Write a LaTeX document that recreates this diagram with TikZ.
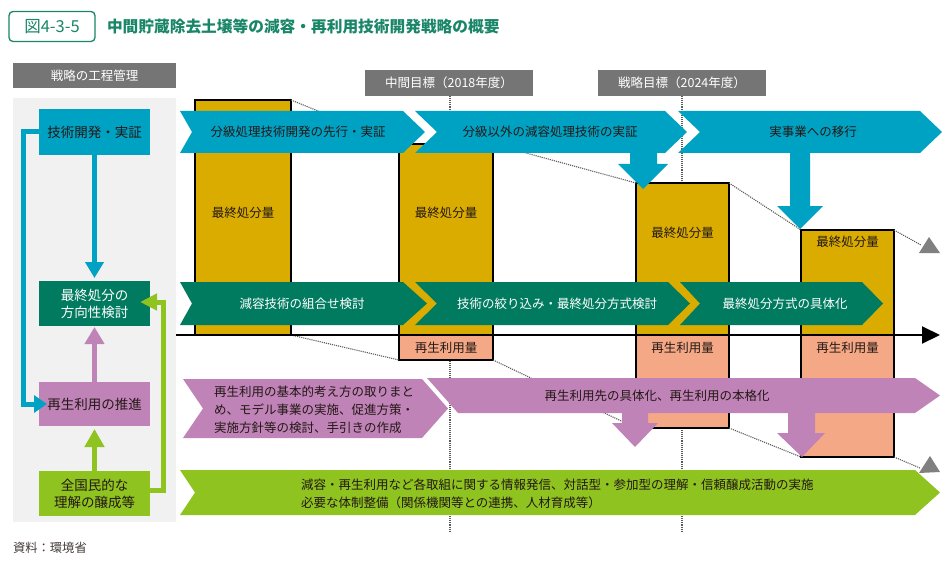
\documentclass[tikz,border=0pt]{standalone}
\usepackage{fontspec}
\setmainfont{Noto Sans CJK JP}
\usetikzlibrary{arrows.meta}
\definecolor{tgreen}{RGB}{26,134,104}
\definecolor{ccyan}{RGB}{0,162,196}
\definecolor{cteal}{RGB}{0,123,96}
\definecolor{cpurple}{RGB}{192,131,184}
\definecolor{clime}{RGB}{143,195,31}
\definecolor{cgold}{RGB}{218,172,0}
\definecolor{csalmon}{RGB}{244,168,134}
\definecolor{chead}{RGB}{117,117,117}
\definecolor{cpanel}{RGB}{241,241,241}
\definecolor{tdark}{RGB}{35,24,21}
\definecolor{cdot}{RGB}{90,90,90}
\definecolor{ctri}{RGB}{128,128,128}
\begin{document}
\begin{tikzpicture}[x=1pt,y=-1pt,
  every node/.style={inner sep=0pt, outer sep=0pt},
  leftbox/.style={minimum width=111pt, minimum height=45pt, align=center, font=\fontsize{13.5}{17}\selectfont},
  header/.style={fill=chead, text=white, font=\fontsize{12.5}{14}\selectfont},
  bar/.style={draw=black, line width=1.5pt, fill=cgold, anchor=north west},
  sbar/.style={draw=black, line width=1.5pt, fill=csalmon, anchor=north west},
  barlabel/.style={text=tdark, font=\fontsize{12.5}{14}\selectfont},
  lbl/.style={font=\fontsize{12.5}{18}\selectfont, text=tdark},
  trend/.style={draw=cdot, densely dotted, line width=1.1pt},
  msline/.style={draw=cdot, densely dotted, line width=1.1pt},
  conn/.style={line width=5pt},
]
\useasboundingbox (0,0) rectangle (952,564);
\fill[white] (0,0) rectangle (952,564);

% title
\node[draw=tgreen, line width=1.3pt, rounded corners=4pt, minimum width=86pt, minimum height=30pt,
      text=tgreen, font=\fontsize{16.5}{18}\selectfont] (fig) at (52,26.5) {図4-3-5};
\node[anchor=west, text=tgreen, font=\bfseries\fontsize{15.7}{18}\selectfont] (title) at (107,27) {中間貯蔵除去土壌等の減容・再利用技術開発戦略の概要};

% left panel
\node[header, minimum width=163pt, minimum height=25pt] (proc) at (94.5,75.5) {戦略の工程管理};
\fill[cpanel] (13,98) rectangle (176,522);

% milestone headers and vertical dotted lines
\node[header, minimum width=168pt, minimum height=26pt] (m1) at (449,83) {中間目標（2018年度）};
\node[header, minimum width=168pt, minimum height=26pt] (m2) at (682,83) {戦略目標（2024年度）};
\coordinate (m1end) at (450,532);
\coordinate (m2end) at (682,532);
\draw[msline] (m1.south -| m1end) -- (m1end);
\draw[msline] (m2.south) -- (m2end);

% bars
\node[bar, minimum width=96pt, minimum height=235pt] (b1) at (195,100) {};
\node[bar, minimum width=94pt, minimum height=191pt] (b2) at (399,144) {};
\node[bar, minimum width=93pt, minimum height=152pt] (b3) at (636,183) {};
\node[bar, minimum width=93pt, minimum height=105pt] (b4) at (801,230) {};
\node[sbar, minimum width=94pt, minimum height=25pt] (s2) at (399,335) {};
\node[sbar, minimum width=93pt, minimum height=93pt] (s3) at (636,335) {};
\node[sbar, minimum width=93pt, minimum height=122pt] (s4) at (801,335) {};

% trend lines
\coordinate (g1) at (921,245);
\coordinate (g2) at (920,468);
\draw[trend] (b1.north east) -- (b2.north west);
\draw[trend] (b2.north east) -- (b3.north west);
\draw[trend] (b3.north east) -- (b4.north west);
\draw[trend] (b4.north east) -- (g1);
\draw[trend] (b1.south east) -- (s2.south west);
\draw[trend] (s2.south east) -- (s3.south west);
\draw[trend] (s3.south east) -- (s4.south west);
\draw[trend] (s4.south east) -- (g2);
\fill[ctri] (919,253) -- (940,253) -- (929,237) -- cycle;
\fill[ctri] (919,473) -- (940,472) -- (930,456) -- cycle;

% axis
\coordinate (axL) at (176,335);
\coordinate (axR) at (940,335);
\draw[line width=2pt, -{Triangle[length=18pt,width=17pt]}] (axL) -- (axR);

% row 1 cyan
\fill[ccyan] (180,111) -- (403,111) -- (425,132) -- (403,153) -- (180,153) -- (192,132) -- cycle;
\fill[ccyan] (415,111) -- (665,111) -- (687,132) -- (665,153) -- (657,153) -- (657,164) -- (668,164) -- (643,189)
   -- (618,164) -- (630,164) -- (630,153) -- (415,153) -- (437,132) -- cycle;
\fill[ccyan] (678,111) -- (920,111) -- (942,132) -- (920,153) -- (810,153) -- (810,206) -- (823,206) -- (800,229)
   -- (777,206) -- (790,206) -- (790,153) -- (678,153) -- (700,132) -- cycle;
\node[lbl] (c1t) at (298,132) {分級処理技術開発の先行・実証};
\node[lbl] (c2t) at (550,132) {分級以外の減容処理技術の実証};
\node[lbl] (c3t) at (813,132) {実事業への移行};

% row 2 teal
\fill[cteal] (180,282) -- (403,282) -- (427,303.5) -- (403,325) -- (180,325) -- (192,303.5) -- cycle;
\fill[cteal] (415,282) -- (668,282) -- (690,303.5) -- (668,325) -- (415,325) -- (437,303.5) -- cycle;
\fill[cteal] (680,282) -- (862,282) -- (883,303.5) -- (862,325) -- (680,325) -- (700,303.5) -- cycle;
\node[lbl, text=white] (t1t) at (302,303.5) {減容技術の組合せ検討};
\node[lbl, text=white] (t2t) at (557,303.5) {技術の絞り込み・最終処分方式検討};
\node[lbl, text=white] (t3t) at (785,303.5) {最終処分方式の具体化};

% row 3 purple
\fill[cpurple] (427,378) -- (915,378) -- (940,395.5) -- (915,413) -- (815,413) -- (815,433) -- (825,433) -- (802,457)
   -- (777,433) -- (788,433) -- (788,413) -- (648,413) -- (648,423) -- (658,423) -- (635,447) -- (612,423)
   -- (622,423) -- (622,413) -- (458,413) -- cycle;
\fill[cpurple] (183,379) -- (422,379) -- (448,408.5) -- (422,438) -- (183,438) -- (203,408.5) -- cycle;
\node[lbl, anchor=west, align=left] (p1t) at (214,410) {再生利用の基本的考え方の取りまと\\め、モデル事業の実施、促進方策・\\実施方針等の検討、手引きの作成};
\node[lbl] (p2t) at (657,395.5) {再生利用先の具体化、再生利用の本格化};

% row 4 lime
\fill[clime] (180,470) -- (915,470) -- (940,492.5) -- (915,515) -- (180,515) -- (195,492.5) -- cycle;
\node[lbl, anchor=west, align=left] (l1t) at (301,494) {減容・再生利用など各取組に関する情報発信、対話型・参加型の理解・信頼醸成活動の実施\\必要な体制整備（関係機関等との連携、人材育成等）};

% bar labels
\node[barlabel] (b1t) at (243,213) {最終処分量};
\node[barlabel] (b2t) at (446,213) {最終処分量};
\node[barlabel] (b3t) at (682.5,233) {最終処分量};
\node[barlabel] (b4t) at (847.5,242) {最終処分量};
\node[barlabel] (s2t) at (446,348) {再生利用量};
\node[barlabel] (s3t) at (682.5,348) {再生利用量};
\node[barlabel] (s4t) at (847.5,348) {再生利用量};

% left nodes
\node[leftbox, fill=ccyan, minimum height=46pt, text=tdark] (tech) at (94.5,132) {技術開発・実証};
\node[leftbox, fill=cteal, text=white] (final) at (94.5,303.5) {最終処分の\\方向性検討};
\node[leftbox, fill=cpurple, minimum height=44pt, text=tdark] (reuse) at (94.5,404) {再生利用の推進};
\node[leftbox, fill=clime, text=tdark] (all) at (94.5,493.5) {全国民的な\\理解の醸成等};

% left connectors
\draw[conn, draw=ccyan, -{Triangle[length=13pt,width=17pt]}] (tech.west) -- ++(-16,0) |- ([xshift=8pt]reuse.west);
\draw[conn, draw=ccyan, -{Triangle[length=16pt,width=18pt]}] (tech.south) -- ([yshift=3pt]final.north);
\draw[conn, draw=cpurple, -{Triangle[length=17pt,width=19pt]}] (reuse.north) -- ([yshift=-1pt]final.south);
\draw[conn, draw=clime, -{Triangle[length=18pt,width=19pt]}] (all.north) -- ([yshift=-3pt]reuse.south);
\draw[conn, draw=clime, -{Triangle[length=17pt,width=16pt]}] ([yshift=3pt]all.east) -- ++(13,0) |- ([xshift=-10pt,yshift=1.5pt]final.east);

% source
\node[anchor=west, text=tdark!85, font=\fontsize{12.3}{14}\selectfont] (src) at (13,548) {資料：環境省};
\end{tikzpicture}
\end{document}
